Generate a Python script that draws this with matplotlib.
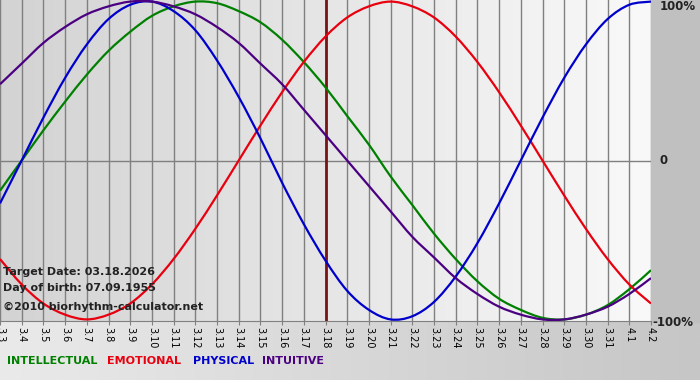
import numpy as np
import matplotlib.pyplot as plt
from matplotlib.colors import LinearSegmentedColormap
from matplotlib.path import Path
from matplotlib.patches import PathPatch

# dates on the x axis (March 3 .. April 2)
days = ["3.3", "3.4", "3.5", "3.6", "3.7", "3.8", "3.9", "3.10", "3.11", "3.12",
        "3.13", "3.14", "3.15", "3.16", "3.17", "3.18", "3.19", "3.20", "3.21", "3.22",
        "3.23", "3.24", "3.25", "3.26", "3.27", "3.28", "3.29", "3.30", "3.31", "4.1", "4.2"]

# cycle values, -1 .. 1
intellectual = [-0.19, 0.00, 0.19, 0.37, 0.54, 0.69, 0.81, 0.91, 0.97, 1.00,
                0.99, 0.94, 0.87, 0.76, 0.62, 0.46, 0.28, 0.10, -0.10, -0.28,
                -0.46, -0.62, -0.76, -0.87, -0.94, -0.99, -1.00, -0.97, -0.91, -0.81, -0.69]
emotional = [-0.62, -0.78, -0.90, -0.97, -1.00, -0.97, -0.90, -0.78, -0.62, -0.43,
             -0.22, 0.00, 0.22, 0.43, 0.62, 0.78, 0.90, 0.97, 1.00, 0.97,
             0.90, 0.78, 0.62, 0.43, 0.22, 0.00, -0.22, -0.43, -0.62, -0.78, -0.90]
physical = [-0.27, 0.00, 0.27, 0.52, 0.73, 0.89, 0.98, 1.00, 0.94, 0.82,
            0.63, 0.40, 0.14, -0.14, -0.40, -0.63, -0.82, -0.94, -1.00, -0.98,
            -0.89, -0.73, -0.52, -0.27, 0.00, 0.27, 0.52, 0.73, 0.89, 0.98, 1.00]
intuitive = [0.48, 0.61, 0.74, 0.84, 0.92, 0.97, 1.00, 1.00, 0.97, 0.92,
             0.84, 0.74, 0.61, 0.48, 0.32, 0.16, 0.00, -0.16, -0.32, -0.48,
             -0.61, -0.74, -0.84, -0.92, -0.97, -1.00, -1.00, -0.97, -0.92, -0.84, -0.74]

target_day = "3.18"
series = [("INTELLECTUAL", intellectual, "#008000"),
          ("EMOTIONAL", emotional, "#e8000f"),
          ("PHYSICAL", physical, "#0000cc"),
          ("INTUITIVE", intuitive, "#4b0082")]


def smooth_path(xs, ys):
    # Catmull-Rom style bezier through the data points (drawing only)
    xs = np.asarray(xs, float)
    ys = np.asarray(ys, float)
    verts = [(xs[0], ys[0])]
    codes = [Path.MOVETO]
    n = len(xs)
    for i in range(n - 1):
        x0, y0 = (xs[i - 1], ys[i - 1]) if i > 0 else (xs[i], ys[i])
        x3, y3 = (xs[i + 2], ys[i + 2]) if i + 2 < n else (xs[i + 1], ys[i + 1])
        c1 = (xs[i] + (xs[i + 1] - x0) / 6, ys[i] + (ys[i + 1] - y0) / 6)
        c2 = (xs[i + 1] - (x3 - xs[i]) / 6, ys[i + 1] - (y3 - ys[i]) / 6)
        verts += [c1, c2, (xs[i + 1], ys[i + 1])]
        codes += [Path.CURVE4] * 3
    return Path(verts, codes)


W, H = 700, 380
fig = plt.figure(figsize=(7, 3.8), dpi=100)

# whole-figure background
bg = fig.add_axes([0, 0, 1, 1], zorder=0)
bg_cmap = LinearSegmentedColormap.from_list("bg", ["#eaeaea", "#c6c6c6"])
bg.imshow(np.linspace(0, 1, 256)[None, :], cmap=bg_cmap, extent=(0, W, H, 0), aspect="auto")
bg.add_patch(plt.Rectangle((651, 0), W - 651, 322, color="#c0c0c0"))
bg.set_xlim(0, W)
bg.set_ylim(H, 0)
bg.axis("off")

ax = fig.add_axes([0, 1 - 321 / H, 651 / W, 321 / H], zorder=1)
x = np.arange(len(days))
ax.set_xlim(0, len(days) - 1)
ax.set_ylim(-1.01, 1.01)

plot_cmap = LinearSegmentedColormap.from_list("plot", ["#d3d3d3", "#f9f9f9"])
ax.imshow(np.linspace(0, 1, 256)[None, :], cmap=plot_cmap,
          extent=(0, len(days) - 1, -1.01, 1.01), aspect="auto", zorder=0)

for xi in x:
    ax.axvline(xi, color="#808080", lw=1, zorder=1)
ax.axhline(0, color="#808080", lw=1, zorder=1)
ax.axvline(days.index(target_day), color="#7a1414", lw=2, zorder=2)

for name, vals, col in series:
    ax.add_patch(PathPatch(smooth_path(x, vals), facecolor="none", edgecolor=col,
                           lw=1.6, zorder=3))

ax.set_xticks(x)
ax.set_xticklabels(days, rotation=-90, fontsize=7)
ax.tick_params(axis="x", length=3, color="#808080", pad=1)
ax.set_yticks([])
for s in ["left", "right", "top"]:
    ax.spines[s].set_visible(False)
ax.spines["bottom"].set_color("#808080")

# info text
ax.text(3 / 651, 1 - 272 / 321, "Target Date: 03.18.2026", transform=ax.transAxes,
        fontsize=8, fontweight="bold", color="#222222", va="center", zorder=5)
ax.text(3 / 651, 1 - 288 / 321, "Day of birth: 07.09.1955", transform=ax.transAxes,
        fontsize=8, fontweight="bold", color="#222222", va="center", zorder=5)
ax.text(3 / 651, 1 - 307 / 321, "\u00a92010 biorhythm-calculator.net", transform=ax.transAxes,
        fontsize=8, fontweight="bold", color="#222222", va="center", zorder=5)

# right-hand labels
fig.text(660 / W, 1 - 7 / H, "100%", fontsize=8.5, fontweight="bold", color="#222222", va="center")
fig.text(660 / W, 1 - 161 / H, "0", fontsize=8.5, fontweight="bold", color="#222222", va="center")
fig.text(652 / W, 1 - 322 / H, "-100%", fontsize=8.5, fontweight="bold", color="#222222", va="center")

# legend words
legend_x = [7, 107, 193, 262]
for (name, vals, col), lx in zip(series, legend_x):
    fig.text(lx / W, 1 - 361 / H, name, fontsize=8, fontweight="bold", color=col, va="center")

fig.savefig("out.png", dpi=100)
